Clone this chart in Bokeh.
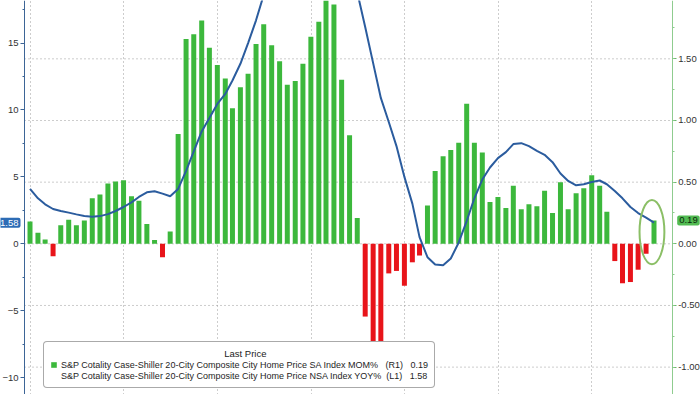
import pandas as pd
from bokeh.plotting import figure
from bokeh.models import (Range1d, LinearAxis, SingleIntervalTicker, NumeralTickFormatter,
                          Label, Legend, LegendItem, ColumnDataSource, FixedTicker)
from bokeh.embed import file_html
from bokeh.resources import INLINE

# ---------------- data ----------------
months = pd.date_range("2018-12-31", periods=81, freq="ME")

mom = [0.18, 0.09, 0.035, -0.10, 0.15, 0.195, 0.15, 0.19, 0.37, 0.40,
       0.49, 0.505, 0.515, 0.385, 0.35, 0.16, 0.03, -0.11, 0.10, 0.89,
       1.66, 1.70, 1.81, 1.59, 1.45, 1.34, 1.10, 1.27, 1.38, 1.62,
       1.78, 1.61, 1.48, 1.29, 1.32, 1.46, 1.68, 1.80, 2.05, 1.94,
       1.33, 0.88, 0.21, -0.59, -0.95, -0.92, -0.24, -0.22, -0.34, -0.15,
       -0.095, 0.31, 0.59, 0.71, 0.76, 0.82, 1.135, 0.82, 0.74, 0.34,
       0.38, 0.29, 0.47, 0.28, 0.32, 0.305, 0.43, 0.25, 0.50, 0.28,
       0.41, 0.45, 0.555, 0.47, 0.26, -0.14, -0.32, -0.31, -0.21, -0.08,
       0.19]

yoy = [4.1, 3.4, 2.95, 2.6, 2.45, 2.33, 2.2, 2.08, 2.03, 2.07,
       2.22, 2.45, 2.75, 3.1, 3.5, 3.85, 3.93, 3.75, 3.55, 4.1,
       5.45, 6.9, 8.4, 9.4, 10.45, 11.2, 12.2, 13.45, 15.0, 16.7,
       18.6, 19.7, 19.9, 19.7, 18.5, 18.3, 18.6, 19.1, 20.2, 21.2,
       21.2, 20.5, 18.8, 16.2, 13.5, 10.9, 9.1, 7.3, 5.0, 3.0,
       0.5, -1.0, -1.55, -1.6, -1.1, 0.1, 1.7, 3.4, 4.8, 5.7,
       6.4, 6.85, 7.45, 7.52, 7.3, 6.95, 6.65, 6.1, 5.25, 4.7,
       4.37, 4.45, 4.62, 4.73, 4.45, 3.95, 3.4, 2.75, 2.3, 1.95,
       1.58]

years = [2019, 2020, 2021, 2022, 2023, 2024, 2025]
right_ticks = [-1.0, -0.5, 0.0, 0.5, 1.0, 1.5]

mom_name = "S&P Cotality Case-Shiller 20-City Composite City Home Price SA Index MOM%"
yoy_name = "S&P Cotality Case-Shiller 20-City Composite City Home Price NSA Index YOY%"
legend_title = "Last Price"

# ---------------- styles / layout ----------------
GREEN = "#3cb83c"
RED = "#e8141a"
BLUE = "#2b5c9e"
FONT = "Liberation Sans"
NB = "\u00a0"
DAY = 24 * 3600 * 1000
W, H = 700, 394

def ms(ts):
    return pd.Timestamp(ts).timestamp() * 1000

# axis positions (time) and pixel positions of the two axes
t_left = ms(months[0]) - 21.5 * DAY
t_right = ms(months[-1]) + 71 * DAY
px_left, px_right = 24.0, 671.7
px_per_ms = (px_right - px_left) / (t_right - t_left)
frame_start = t_left - px_left / px_per_ms
frame_end = t_right + (W - px_right) / px_per_ms

p = figure(width=W, height=H, x_axis_type="datetime",
           x_range=Range1d(frame_start, frame_end), y_range=Range1d(-11.26, 18.18),
           output_backend="svg", toolbar_location=None,
           min_border_left=0, min_border_right=0, min_border_top=0, min_border_bottom=0)
p.extra_y_ranges = {"right": Range1d(-1.222, 1.973)}
p.outline_line_color = None
p.background_fill_color = "white"
p.border_fill_color = "white"

# horizontal dotted grid (right-axis levels), only between the axes
p.segment(x0=t_left, x1=t_right, y0=right_ticks, y1=right_ticks, y_range_name="right",
          line_color="#9a9a9a", line_dash="1 3", line_width=1)

# bars (MoM, right axis)
src = ColumnDataSource(dict(x=months, top=mom,
                            color=[GREEN if v >= 0 else RED for v in mom]))
bars = p.vbar(x="x", top="top", bottom=0, width=19.5 * DAY, fill_color="color",
              line_color=None, y_range_name="right", source=src)

# line (YoY, left axis)
p.line(months, yoy, line_color=BLUE, line_width=2)

# highlight ellipse around last bar
p.ellipse(x=[months[-1] - pd.Timedelta(days=8)], y=[mom[-1] / 2], width=97 * DAY, height=0.52,
          y_range_name="right", fill_color=None, line_color="#8bbf66", line_width=2)

# legend swatch for the line
swatch = p.vbar(x=[], top=[], width=1, fill_color=BLUE, line_color=None)

# axes
p.xaxis.visible = False
p.xgrid.ticker = FixedTicker(ticks=[ms(f"{y}-01-01") for y in years])
p.xgrid.grid_line_color = "#9a9a9a"
p.xgrid.grid_line_dash = "1 3"
p.ygrid.visible = False

la = p.yaxis[0]
la.fixed_location = t_left
la.ticker = SingleIntervalTicker(interval=5, num_minor_ticks=2)
la.axis_line_color = "#3d6596"
la.major_tick_line_color = "#3d6596"
la.minor_tick_line_color = "#3d6596"
la.major_tick_out = 4
la.major_tick_in = 0
la.minor_tick_out = 2
la.minor_tick_in = 0
la.major_label_standoff = 2
la.major_label_text_font = FONT
la.major_label_text_font_size = "9.5px"
la.major_label_text_color = "#333333"

ra = LinearAxis(y_range_name="right", fixed_location=t_right,
                ticker=SingleIntervalTicker(interval=0.5, num_minor_ticks=2),
                formatter=NumeralTickFormatter(format="0.00"))
ra.axis_line_color = "#8fcc8f"
ra.major_tick_line_color = "#6cb86c"
ra.minor_tick_line_color = "#8fcc8f"
ra.major_tick_out = 4
ra.major_tick_in = 0
ra.minor_tick_out = 2
ra.minor_tick_in = 0
ra.major_label_standoff = 2
ra.major_label_text_font = FONT
ra.major_label_text_font_size = "9.5px"
ra.major_label_text_color = "#333333"
p.add_layout(ra, "right")

# last value labels
p.add_layout(Label(x=t_left, y=yoy[-1], text=f"{yoy[-1]:.2f}", text_align="right",
                   text_baseline="middle", x_offset=-4, text_font=FONT, text_font_size="9.5px",
                   text_color="white", background_fill_color="#2d6cb5", padding=2,
                   border_radius=2))
p.add_layout(Label(x=t_right, y=mom[-1], y_range_name="right", text=f"{mom[-1]:.2f}",
                   text_align="left", text_baseline="middle", x_offset=5, text_font=FONT,
                   text_font_size="9.5px", text_color="#0d2a0d", background_fill_color="#52bb52",
                   padding=2, border_radius=2))

# legend
items = [
    LegendItem(label=f"{mom_name}{NB*3}(R1){NB*3}{mom[-1]:.2f}", renderers=[bars], index=0),
    LegendItem(label=f"{yoy_name}{NB*2}(L1){NB*3}{yoy[-1]:.2f}", renderers=[swatch]),
]
legend = Legend(items=items, location=(43, 6), title=NB * 66 + legend_title)
legend.title_text_font = FONT
legend.title_text_font_size = "9.5px"
legend.title_text_font_style = "normal"
legend.title_text_color = "#222222"
legend.title_standoff = 0
legend.label_text_font = FONT
legend.label_text_font_size = "9px"
legend.label_text_color = "#1e1e1e"
legend.label_height = 11
legend.label_standoff = 4
legend.glyph_width = 7
legend.glyph_height = 7
legend.spacing = 0
legend.padding = 6
legend.margin = 0
legend.border_line_color = "#555555"
legend.border_line_width = 1
legend.background_fill_color = "white"
legend.background_fill_alpha = 1
if "border_radius" in legend.properties():
    legend.border_radius = 4
p.add_layout(legend)

open("out.html", "w").write(file_html(p, INLINE))
